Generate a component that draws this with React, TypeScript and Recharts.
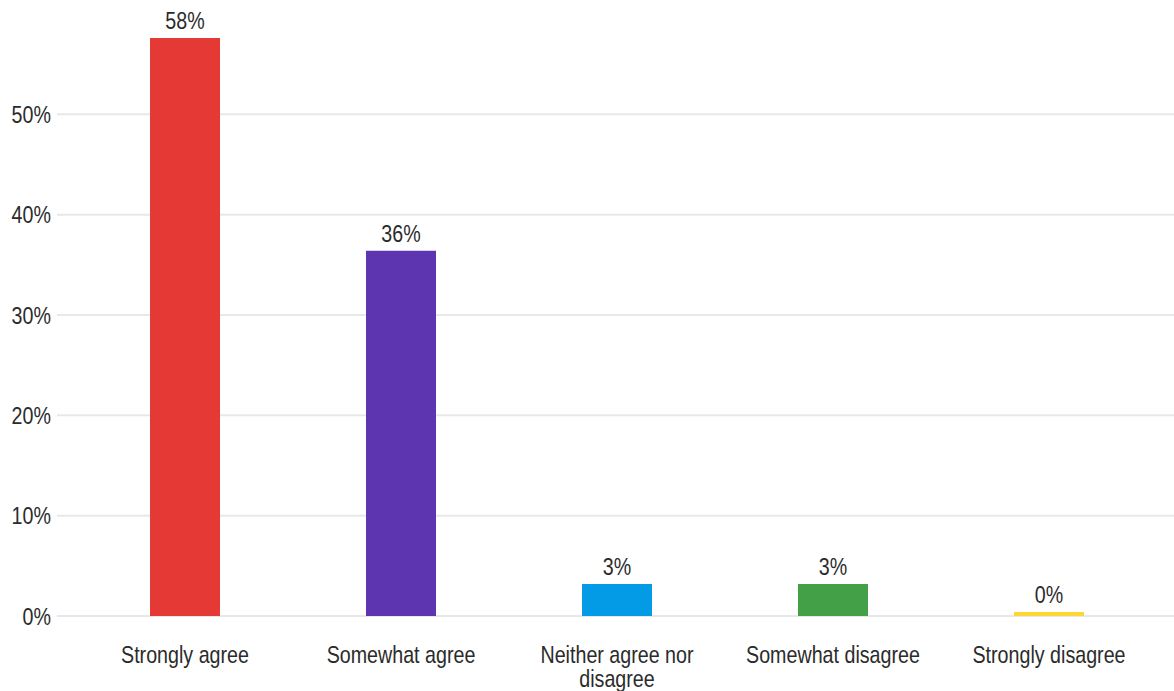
import { BarChart, Bar, XAxis, YAxis, CartesianGrid, LabelList, Cell } from 'recharts'

const categories = [
  'Strongly agree',
  'Somewhat agree',
  'Neither agree nor disagree',
  'Somewhat disagree',
  'Strongly disagree',
]
const shares = [57.6, 36.4, 3.2, 3.2, 0.4]
const barColors = ['#e53935', '#5e35b1', '#039be5', '#43a047', '#fdd835']
const yTicks = [0, 10, 20, 30, 40, 50]

const data = categories.map((name, i) => ({ name, value: shares[i] }))

const FONT = "'Liberation Sans', Arial, sans-serif"
const TEXT = '#2b2b2b'
const FS = 24
// reference text is narrow, squeeze it horizontally
const SX = 0.82

// word wrap on character count
function wrap(label: string, maxChars = 18) {
  const lines: string[] = []
  let cur = ''
  for (const w of label.split(' ')) {
    const next = cur ? `${cur} ${w}` : w
    if (next.length > maxChars && cur) {
      lines.push(cur)
      cur = w
    } else {
      cur = next
    }
  }
  if (cur) lines.push(cur)
  return lines
}

function CategoryTick(props: any) {
  const { x, y, payload } = props
  const lines = wrap(String(payload.value))
  return (
    <g transform={`translate(${x},${y + 45}) scale(${SX},1)`}>
      <text textAnchor="middle" fill={TEXT} style={{ fontSize: FS, fontFamily: FONT }}>
        {lines.map((l, i) => (
          <tspan key={i} x={0} dy={i === 0 ? 0 : 24}>
            {l}
          </tspan>
        ))}
      </text>
    </g>
  )
}

function PercentTick(props: any) {
  const { x, y, payload } = props
  return (
    <g transform={`translate(${x},${y}) scale(${SX},1)`}>
      <text x={0} y={0} dy="0.36em" textAnchor="end" fill={TEXT} style={{ fontSize: FS, fontFamily: FONT }}>
        {`${payload.value}%`}
      </text>
    </g>
  )
}

function BarValue(props: any) {
  const { x, y, width, value } = props
  return (
    <g transform={`translate(${Number(x) + Number(width) / 2},${Number(y) - 9}) scale(${SX},1)`}>
      <text x={0} y={0} textAnchor="middle" fill={TEXT} style={{ fontSize: FS, fontFamily: FONT }}>
        {`${Math.round(Number(value))}%`}
      </text>
    </g>
  )
}

export default function App() {
  return (
    <div style={{ position: 'absolute', left: 0, top: 0, background: '#fff' }}>
      <BarChart
        width={1174}
        height={691}
        data={data}
        margin={{ top: 14, right: 0, bottom: 0, left: 0 }}
      >
        <CartesianGrid vertical={false} horizontalValues={yTicks} stroke="#e8e8e8" strokeWidth={2} />
        <XAxis
          dataKey="name"
          height={75}
          axisLine={false}
          tickLine={false}
          tickSize={0}
          padding={{ left: 20, right: 17 }}
          interval={0}
          tick={<CategoryTick />}
        />
        <YAxis
          width={57}
          domain={[0, 60]}
          ticks={yTicks}
          axisLine={false}
          tickLine={false}
          tickSize={6}
          tickMargin={0}
          tick={<PercentTick />}
        />
        <Bar dataKey="value" barSize={70} isAnimationActive={false}>
          {data.map((d, i) => (
            <Cell key={d.name} fill={barColors[i]} />
          ))}
          <LabelList dataKey="value" content={<BarValue />} />
        </Bar>
      </BarChart>
    </div>
  )
}
